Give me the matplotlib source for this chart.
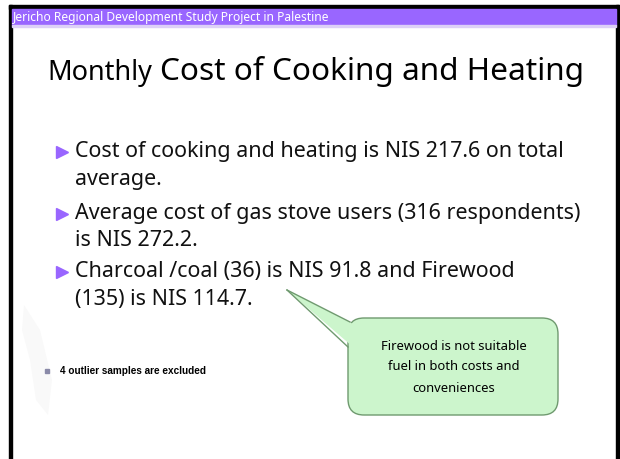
import matplotlib
matplotlib.use('Agg')
import matplotlib.pyplot as plt
from matplotlib.patches import Rectangle, FancyBboxPatch, Polygon

# slide text
header = 'Jericho Regional Development Study Project in Palestine'
title_small = 'Monthly'
title_big = 'Cost of Cooking and Heating'
bullet_lines = [
    ['Cost of cooking and heating is NIS 217.6 on total', 'average.'],
    ['Average cost of gas stove users (316 respondents)', 'is NIS 272.2.'],
    ['Charcoal /coal (36) is NIS 91.8 and Firewood', '(135) is NIS 114.7.'],
]
note = '4 outlier samples are excluded'
callout = ['Firewood is not suitable', 'fuel in both costs and', 'conveniences']

purple = '#9966ff'
green = '#ccf5cc'
green_edge = '#6f9a6f'

plt.rcParams['font.family'] = ['Noto Sans', 'DejaVu Sans']

fig = plt.figure(figsize=(6.2, 4.59), dpi=100)
ax = fig.add_axes([0, 0, 1, 1])
ax.set_xlim(0, 620)
ax.set_ylim(459, 0)
ax.axis('off')
r = fig.canvas.get_renderer()


def fit(t, w):
    # rescale the font so the text is w pixels wide
    bb = t.get_window_extent(r)
    t.set_fontsize(t.get_fontsize() * w / bb.width)
    return t


# frame and header band
ax.add_patch(Rectangle((9, 5), 610, 4, color='black'))
ax.add_patch(Rectangle((9, 5), 3, 454, color='black'))
ax.add_patch(Rectangle((616, 5), 3, 454, color='black'))
ax.add_patch(Rectangle((12, 9), 604, 16, color=purple))
ax.add_patch(Rectangle((12, 25), 604, 1.5, color='#ddd0f7'))
fit(ax.text(13, 17.5, header, color='white', fontsize=9, va='center'), 318)

# faint watermark on the left
ax.add_patch(Polygon([(24, 305), (40, 330), (52, 380), (48, 415), (36, 400),
                      (30, 360), (22, 330)], closed=True, fc='#f9f9f9', ec='none'))

# title
fit(ax.text(47, 80, title_small, fontsize=20, va='baseline'), 105)
fit(ax.text(160, 80, title_big, fontsize=22, va='baseline'), 424)

# bullets
ys = [152, 214, 272]
t = ax.text(75, 0, bullet_lines[1][0], fontsize=17, va='center')
fit(t, 505)
fs = t.get_fontsize()
t.remove()
for y, lines in zip(ys, bullet_lines):
    ax.plot(62, y, marker='>', color=purple, markersize=8)
    ax.text(75, y, lines[0], fontsize=fs, va='center', color='#111111')
    ax.text(75, y + 27, lines[1], fontsize=fs, va='center', color='#111111')

# small note
ax.plot(47, 371, marker='s', color='#8a8aa8', markersize=3)
fit(ax.text(60, 371, note, fontsize=8, fontweight='bold', va='center',
            family='Liberation Sans'), 146)

# callout bubble
ax.add_patch(FancyBboxPatch((348, 318), 210, 97,
                            boxstyle='round,pad=0,rounding_size=16',
                            fc=green, ec=green_edge, lw=1))
ax.add_patch(Polygon([(353, 324), (287, 290), (353, 347)], closed=True,
                     fc=green, ec='none'))
ax.plot([287, 350], [290, 322], color=green_edge, lw=1)
ax.plot([287, 348], [290, 347], color=green_edge, lw=1)
for i, line in enumerate(callout):
    t = ax.text(454, 346 + 21 * i, line, fontsize=11, ha='center', va='center')
    if i == 0:
        fit(t, 146)
        cfs = t.get_fontsize()
    else:
        t.set_fontsize(cfs)

fig.savefig('out.png', dpi=100)
